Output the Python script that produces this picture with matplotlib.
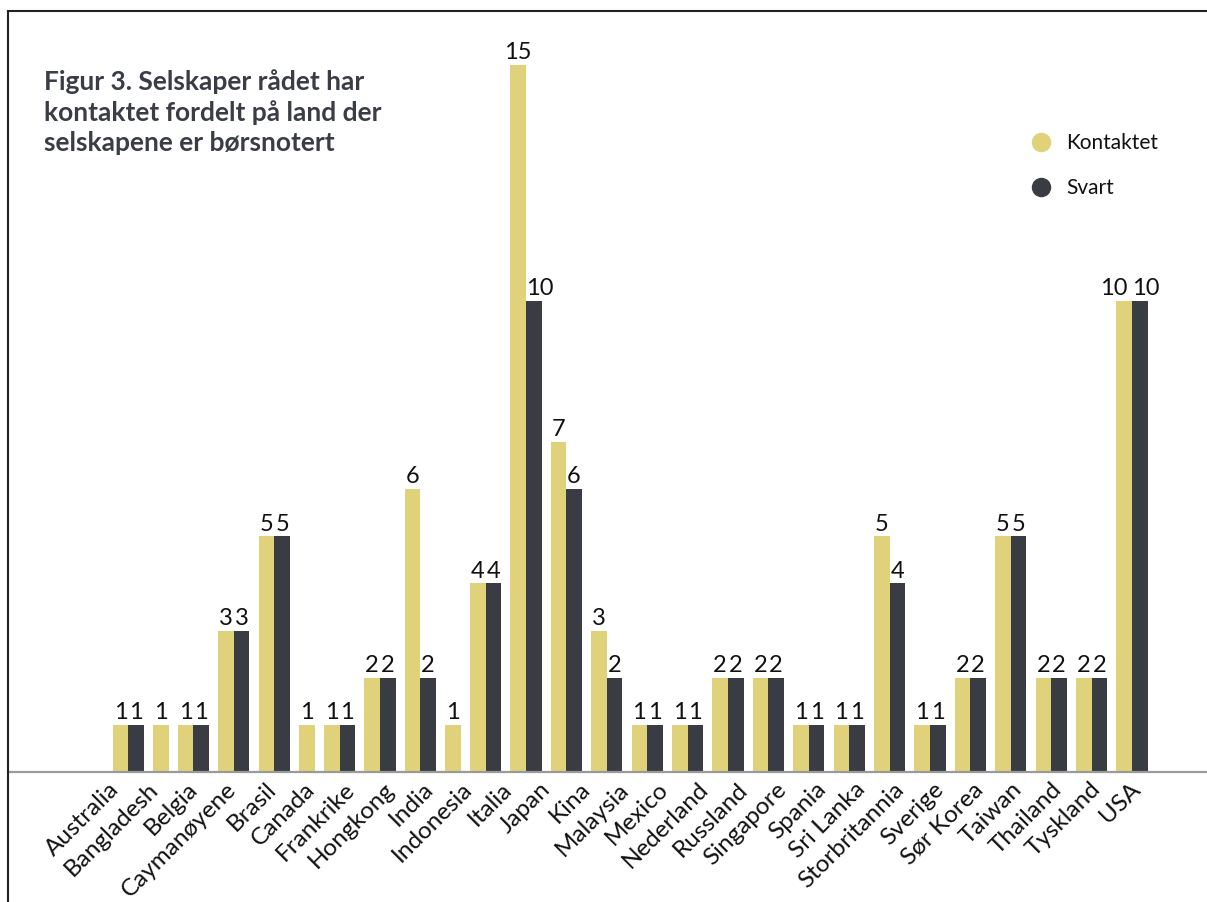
import matplotlib
matplotlib.use("Agg")
import matplotlib.pyplot as plt
from matplotlib.lines import Line2D

plt.rcParams["font.family"] = ["Lato", "DejaVu Sans"]

# data
countries = [
    "Australia", "Bangladesh", "Belgia", "Caymanøyene", "Brasil", "Canada",
    "Frankrike", "Hongkong", "India", "Indonesia", "Italia", "Japan", "Kina",
    "Malaysia", "Mexico", "Nederland", "Russland", "Singapore", "Spania",
    "Sri Lanka", "Storbritannia", "Sverige", "Sør Korea", "Taiwan",
    "Thailand", "Tyskland", "USA",
]
kontaktet = [1, 1, 1, 3, 5, 1, 1, 2, 6, 1, 4, 15, 7, 3, 1, 1, 2, 2, 1, 1, 5, 1, 2, 5, 2, 2, 10]
svart = [1, 0, 1, 3, 5, 0, 1, 2, 2, 0, 4, 10, 6, 2, 1, 1, 2, 2, 1, 1, 4, 1, 2, 5, 2, 2, 10]

YELLOW = "#DFD27A"
DARK = "#393C43"
TITLE_C = "#3A3D45"

# layout in pixels (x axis runs in figure pixels)
W, H = 1207, 903
BAR_W = 15.6
GAP = 9.2
X0 = 112.7
LABEL_X0 = 108.0
LABEL_STEP = 39.27
BASE_Y = 773
TOP_Y = 12
PX_PER_UNIT = 47.13
PT = 100 / 72  # px per point

fig = plt.figure(figsize=(W / 100, H / 100), dpi=100)
ax = fig.add_axes([8 / W, (H - BASE_Y) / H, (W - 8) / W, (BASE_Y - TOP_Y) / H])
ax.set_xlim(8, W)
ax.set_ylim(0, (BASE_Y - TOP_Y) / PX_PER_UNIT)

# bars packed one after another; a missing "Svart" bar leaves no hole
x = X0
for k, s in zip(kontaktet, svart):
    kc = x + BAR_W / 2
    ax.bar(x, k, width=BAR_W, align="edge", color=YELLOW, linewidth=0)
    x += BAR_W
    # two-digit labels side by side get pushed apart
    k_dx = -10 if (k >= 10 and s == k) else 0
    ax.annotate(str(k), (kc, k), xytext=(k_dx / PT, 2), textcoords="offset points",
                ha="center", va="bottom", fontsize=17, color="#111111")
    if s > 0:
        sc = x + BAR_W / 2
        ax.bar(x, s, width=BAR_W, align="edge", color=DARK, linewidth=0)
        s_dx = 6 if s >= 10 else 0
        ax.annotate(str(s), (sc, s), xytext=(s_dx / PT, 2), textcoords="offset points",
                    ha="center", va="bottom", fontsize=17, color="#111111")
        x += BAR_W
    x += GAP

ticks = [LABEL_X0 + i * LABEL_STEP for i in range(len(countries))]
ax.set_xticks(ticks)
ax.set_xticklabels(countries, rotation=45, ha="right", rotation_mode="anchor",
                   fontsize=17.5, color="#111111")
ax.tick_params(axis="x", length=0, pad=4)
ax.set_yticks([])

for side in ("left", "right", "top"):
    ax.spines[side].set_visible(False)
ax.spines["bottom"].set_color("#9A9A9A")
ax.spines["bottom"].set_linewidth(1.6)

# outer frame: left and top lines only
fx = 8 / W
fy = 1 - TOP_Y / H
fig.add_artist(Line2D([fx, fx], [0, fy], transform=fig.transFigure, color="#222222", lw=1.5))
fig.add_artist(Line2D([fx, 1], [fy, fy], transform=fig.transFigure, color="#222222", lw=1.5))

fig.text(44 / W, 1 - 69 / H,
         "Figur 3. Selskaper rådet har\nkontaktet fordelt på land der\nselskapene er børsnotert",
         ha="left", va="top", fontsize=19, fontweight="bold", color=TITLE_C,
         linespacing=1.3)

# legend drawn by hand: round markers plus labels
for yy, label, col in ((143, "Kontaktet", YELLOW), (188, "Svart", DARK)):
    fig.add_artist(Line2D([1041 / W], [1 - yy / H], transform=fig.transFigure,
                          marker="o", markersize=13, color=col, linestyle="none"))
    fig.text(1066 / W, 1 - yy / H, label, ha="left", va="center",
             fontsize=15, color="#111111")

fig.savefig("out.png", dpi=100)
